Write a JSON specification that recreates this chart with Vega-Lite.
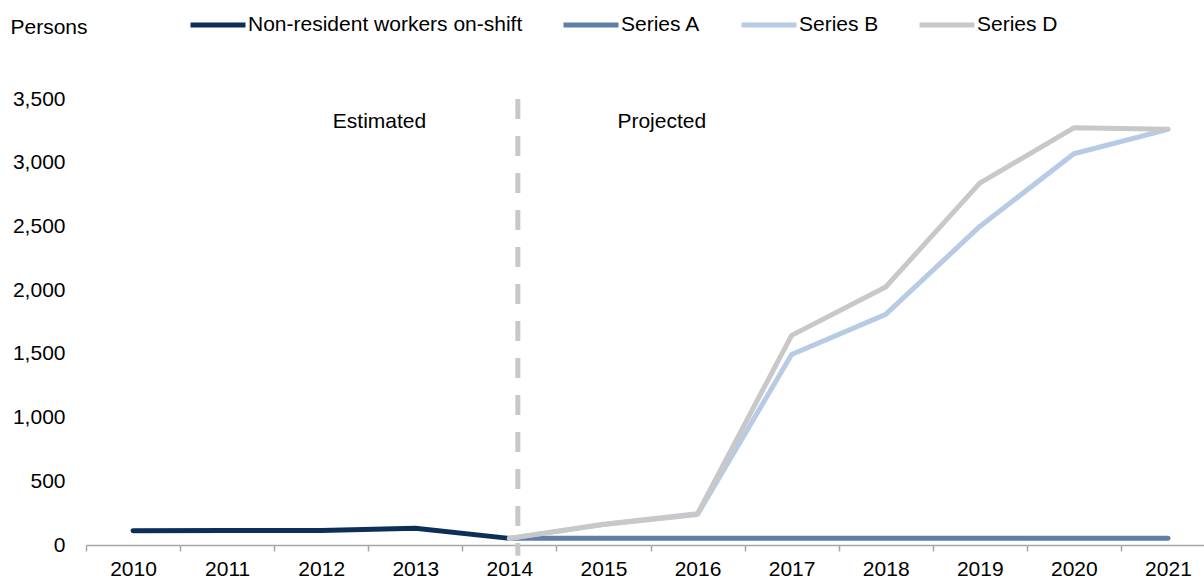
{
  "$schema": "https://vega.github.io/schema/vega-lite/v6.json",
  "autosize": {"type": "none"},
  "padding": {"left": 86, "top": 99, "right": 0, "bottom": 34},
  "width": 1118,
  "height": 446,
  "config": {"view": {"stroke": null}, "font": "Liberation Sans"},
  "data": {"values": [
    {"year": "2010", "series": "Non-resident workers on-shift", "value": 112},
    {"year": "2011", "series": "Non-resident workers on-shift", "value": 113},
    {"year": "2012", "series": "Non-resident workers on-shift", "value": 114},
    {"year": "2013", "series": "Non-resident workers on-shift", "value": 131},
    {"year": "2014", "series": "Non-resident workers on-shift", "value": 52},
    {"year": "2014", "series": "Series A", "value": 52},
    {"year": "2015", "series": "Series A", "value": 52},
    {"year": "2016", "series": "Series A", "value": 52},
    {"year": "2017", "series": "Series A", "value": 52},
    {"year": "2018", "series": "Series A", "value": 52},
    {"year": "2019", "series": "Series A", "value": 52},
    {"year": "2020", "series": "Series A", "value": 52},
    {"year": "2021", "series": "Series A", "value": 52},
    {"year": "2014", "series": "Series B", "value": 52},
    {"year": "2015", "series": "Series B", "value": 160},
    {"year": "2016", "series": "Series B", "value": 240},
    {"year": "2017", "series": "Series B", "value": 1495},
    {"year": "2018", "series": "Series B", "value": 1810},
    {"year": "2019", "series": "Series B", "value": 2500},
    {"year": "2020", "series": "Series B", "value": 3070},
    {"year": "2021", "series": "Series B", "value": 3262},
    {"year": "2014", "series": "Series D", "value": 52},
    {"year": "2015", "series": "Series D", "value": 163},
    {"year": "2016", "series": "Series D", "value": 246},
    {"year": "2017", "series": "Series D", "value": 1645},
    {"year": "2018", "series": "Series D", "value": 2025},
    {"year": "2019", "series": "Series D", "value": 2840},
    {"year": "2020", "series": "Series D", "value": 3274},
    {"year": "2021", "series": "Series D", "value": 3262}
  ]},
  "layer": [
    {
      "data": {"values": [{"year": "2014"}]},
      "mark": {"type": "rule", "stroke": "#c8c8c8", "strokeWidth": 5, "strokeDash": [20, 17]},
      "encoding": {
        "x": {"field": "year", "type": "ordinal", "bandPosition": 0.59},
        "y": {"datum": 3500},
        "y2": {"datum": -85}
      }
    },
    {
      "mark": {"type": "line", "strokeWidth": 5, "strokeCap": "round", "strokeJoin": "round"},
      "encoding": {
        "x": {
          "field": "year", "type": "ordinal",
          "scale": {"type": "band", "paddingInner": 0, "paddingOuter": 0, "range": [0, 1129]},
          "axis": {
            "title": null, "labelAngle": 0, "tickBand": "extent", "bandPosition": 0.5,
            "labelAlign": "center", "labelBaseline": "top",
            "domainColor": "#a6a6a6", "domainWidth": 1.5,
            "tickColor": "#a6a6a6", "tickWidth": 1.5, "tickSize": 6,
            "labelPadding": 7, "labelFontSize": 21, "labelColor": "#000000",
            "labelFont": "Liberation Sans", "grid": false
          }
        },
        "y": {
          "field": "value", "type": "quantitative",
          "scale": {"domain": [0, 3500], "nice": false},
          "axis": {
            "title": "Persons", "titleAngle": 0, "titleX": -76, "titleY": -72,
            "titleAlign": "left", "titleBaseline": "middle", "titleFontWeight": "normal",
            "titleFontSize": 21, "titleFont": "Liberation Sans", "titleColor": "#000000",
            "values": [0, 500, 1000, 1500, 2000, 2500, 3000, 3500],
            "format": ",.0f", "domain": false, "ticks": false, "labelPadding": 21,
            "labelFontSize": 21, "labelColor": "#000000", "labelFont": "Liberation Sans",
            "gridColor": "#d4d4d4", "gridWidth": 1.5
          }
        },
        "color": {
          "field": "series", "type": "nominal",
          "scale": {
            "domain": ["Non-resident workers on-shift", "Series A", "Series B", "Series D"],
            "range": ["#0c2f57", "#5f7fa6", "#b7cbe5", "#c8c8c8"]
          },
          "legend": {
            "orient": "none", "legendX": 102, "legendY": -104, "direction": "horizontal",
            "title": null, "symbolType": "stroke", "symbolSize": 3025, "symbolStrokeWidth": 5,
            "labelFontSize": 21, "labelFont": "Liberation Sans", "labelColor": "#000000",
            "labelOffset": 0, "columnPadding": 30, "labelLimit": 400
          }
        }
      }
    },
    {
      "data": {"values": [
        {"year": "2013", "label": "Estimated"},
        {"year": "2016", "label": "Projected"}
      ]},
      "mark": {"type": "text", "fontSize": 21, "font": "Liberation Sans", "baseline": "middle", "align": "center", "color": "#000000"},
      "encoding": {
        "x": {"field": "year", "type": "ordinal", "bandPosition": 0.12},
        "y": {"datum": 3320},
        "text": {"field": "label"}
      }
    }
  ]
}
